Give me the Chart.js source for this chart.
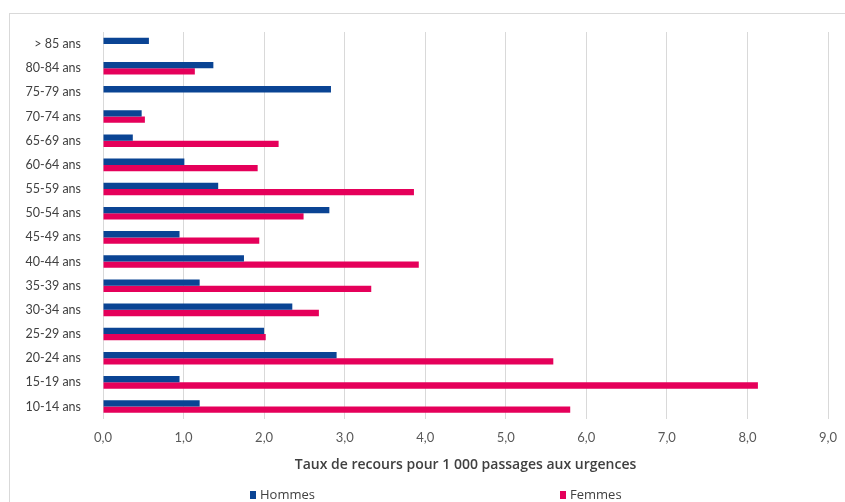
<!DOCTYPE html>
<html>
<head>
<meta charset="utf-8">
<script src="https://cdn.jsdelivr.net/npm/chart.js@4"></script>
<style>
  html, body { margin: 0; padding: 0; background: #fff; }
  #wrap { position: relative; width: 845px; height: 502px; overflow: hidden; font-family: "Open Sans", sans-serif; }
  #frame { position: absolute; left: 9px; top: 13px; width: 900px; height: 600px; border: 1px solid #d9d9d9; box-sizing: border-box; }
  #chart { position: absolute; left: 0; top: 0; }
  .leg { position: absolute; top: 485px; font-size: 13px; color: #404040; }
  .leg span { display: inline-block; width: 6px; height: 8px; margin-right: 4px; }
</style>
</head>
<body>
<div id="wrap">
  <div id="frame"></div>
  <canvas id="chart" width="845" height="502"></canvas>
  <div class="leg" style="left:250px"><span style="background:#0a4494"></span>Hommes</div>
  <div class="leg" style="left:560px"><span style="background:#e5005a"></span>Femmes</div>
</div>
<script>
// Data
const ageGroups = ['> 85 ans', '80-84 ans', '75-79 ans', '70-74 ans', '65-69 ans', '60-64 ans',
  '55-59 ans', '50-54 ans', '45-49 ans', '40-44 ans', '35-39 ans', '30-34 ans',
  '25-29 ans', '20-24 ans', '15-19 ans', '10-14 ans'];
const hommes = [0.57, 1.37, 2.83, 0.48, 0.37, 1.01, 1.43, 2.81, 0.95, 1.75, 1.20, 2.35, 2.00, 2.90, 0.95, 1.20];
const femmes = [null, 1.14, null, 0.52, 2.18, 1.92, 3.86, 2.49, 1.94, 3.92, 3.33, 2.68, 2.02, 5.59, 8.13, 5.80];
const xTicks = [0, 1, 2, 3, 4, 5, 6, 7, 8, 9];
const xTitle = 'Taux de recours pour 1 000 passages aux urgences';

const ctx = document.getElementById('chart').getContext('2d');
new Chart(ctx, {
    type: 'bar',
    data: {
        labels: ageGroups,
        datasets: [
            { label: 'Hommes', data: hommes, backgroundColor: '#0a4494' },
            { label: 'Femmes', data: femmes, backgroundColor: '#e5005a' }
        ]
    },
    options: {
        indexAxis: 'y',
        responsive: false,
        animation: false,
        categoryPercentage: 0.52,
        barPercentage: 1,
        layout: { padding: { top: 32, right: 17, bottom: 29, left: 0 } },
        plugins: {
            legend: { display: false },
            tooltip: { enabled: false }
        },
        scales: {
            x: {
                min: xTicks[0],
                max: xTicks[xTicks.length - 1],
                afterBuildTicks: s => { s.ticks = xTicks.map(v => ({ value: v })); },
                afterFit: s => { s.paddingLeft = 0; s.paddingRight = 0; },
                grid: { color: '#d9d9d9', drawTicks: false },
                border: { display: false },
                ticks: {
                    padding: 11,
                    color: '#595959',
                    font: { family: 'Lato', size: 13 },
                    callback: v => v.toFixed(1).replace('.', ',')
                },
                title: {
                    display: true,
                    text: xTitle,
                    color: '#404040',
                    font: { family: 'Open Sans', size: 14, weight: '600' },
                    padding: { top: 0, bottom: 0 }
                }
            },
            y: {
                afterFit: s => { s.width = 103; },
                grid: { display: false },
                border: { display: false },
                ticks: {
                    padding: 14,
                    color: '#404040',
                    font: { family: 'Lato', size: 12.5 }
                }
            }
        }
    }
});
</script>
</body>
</html>
